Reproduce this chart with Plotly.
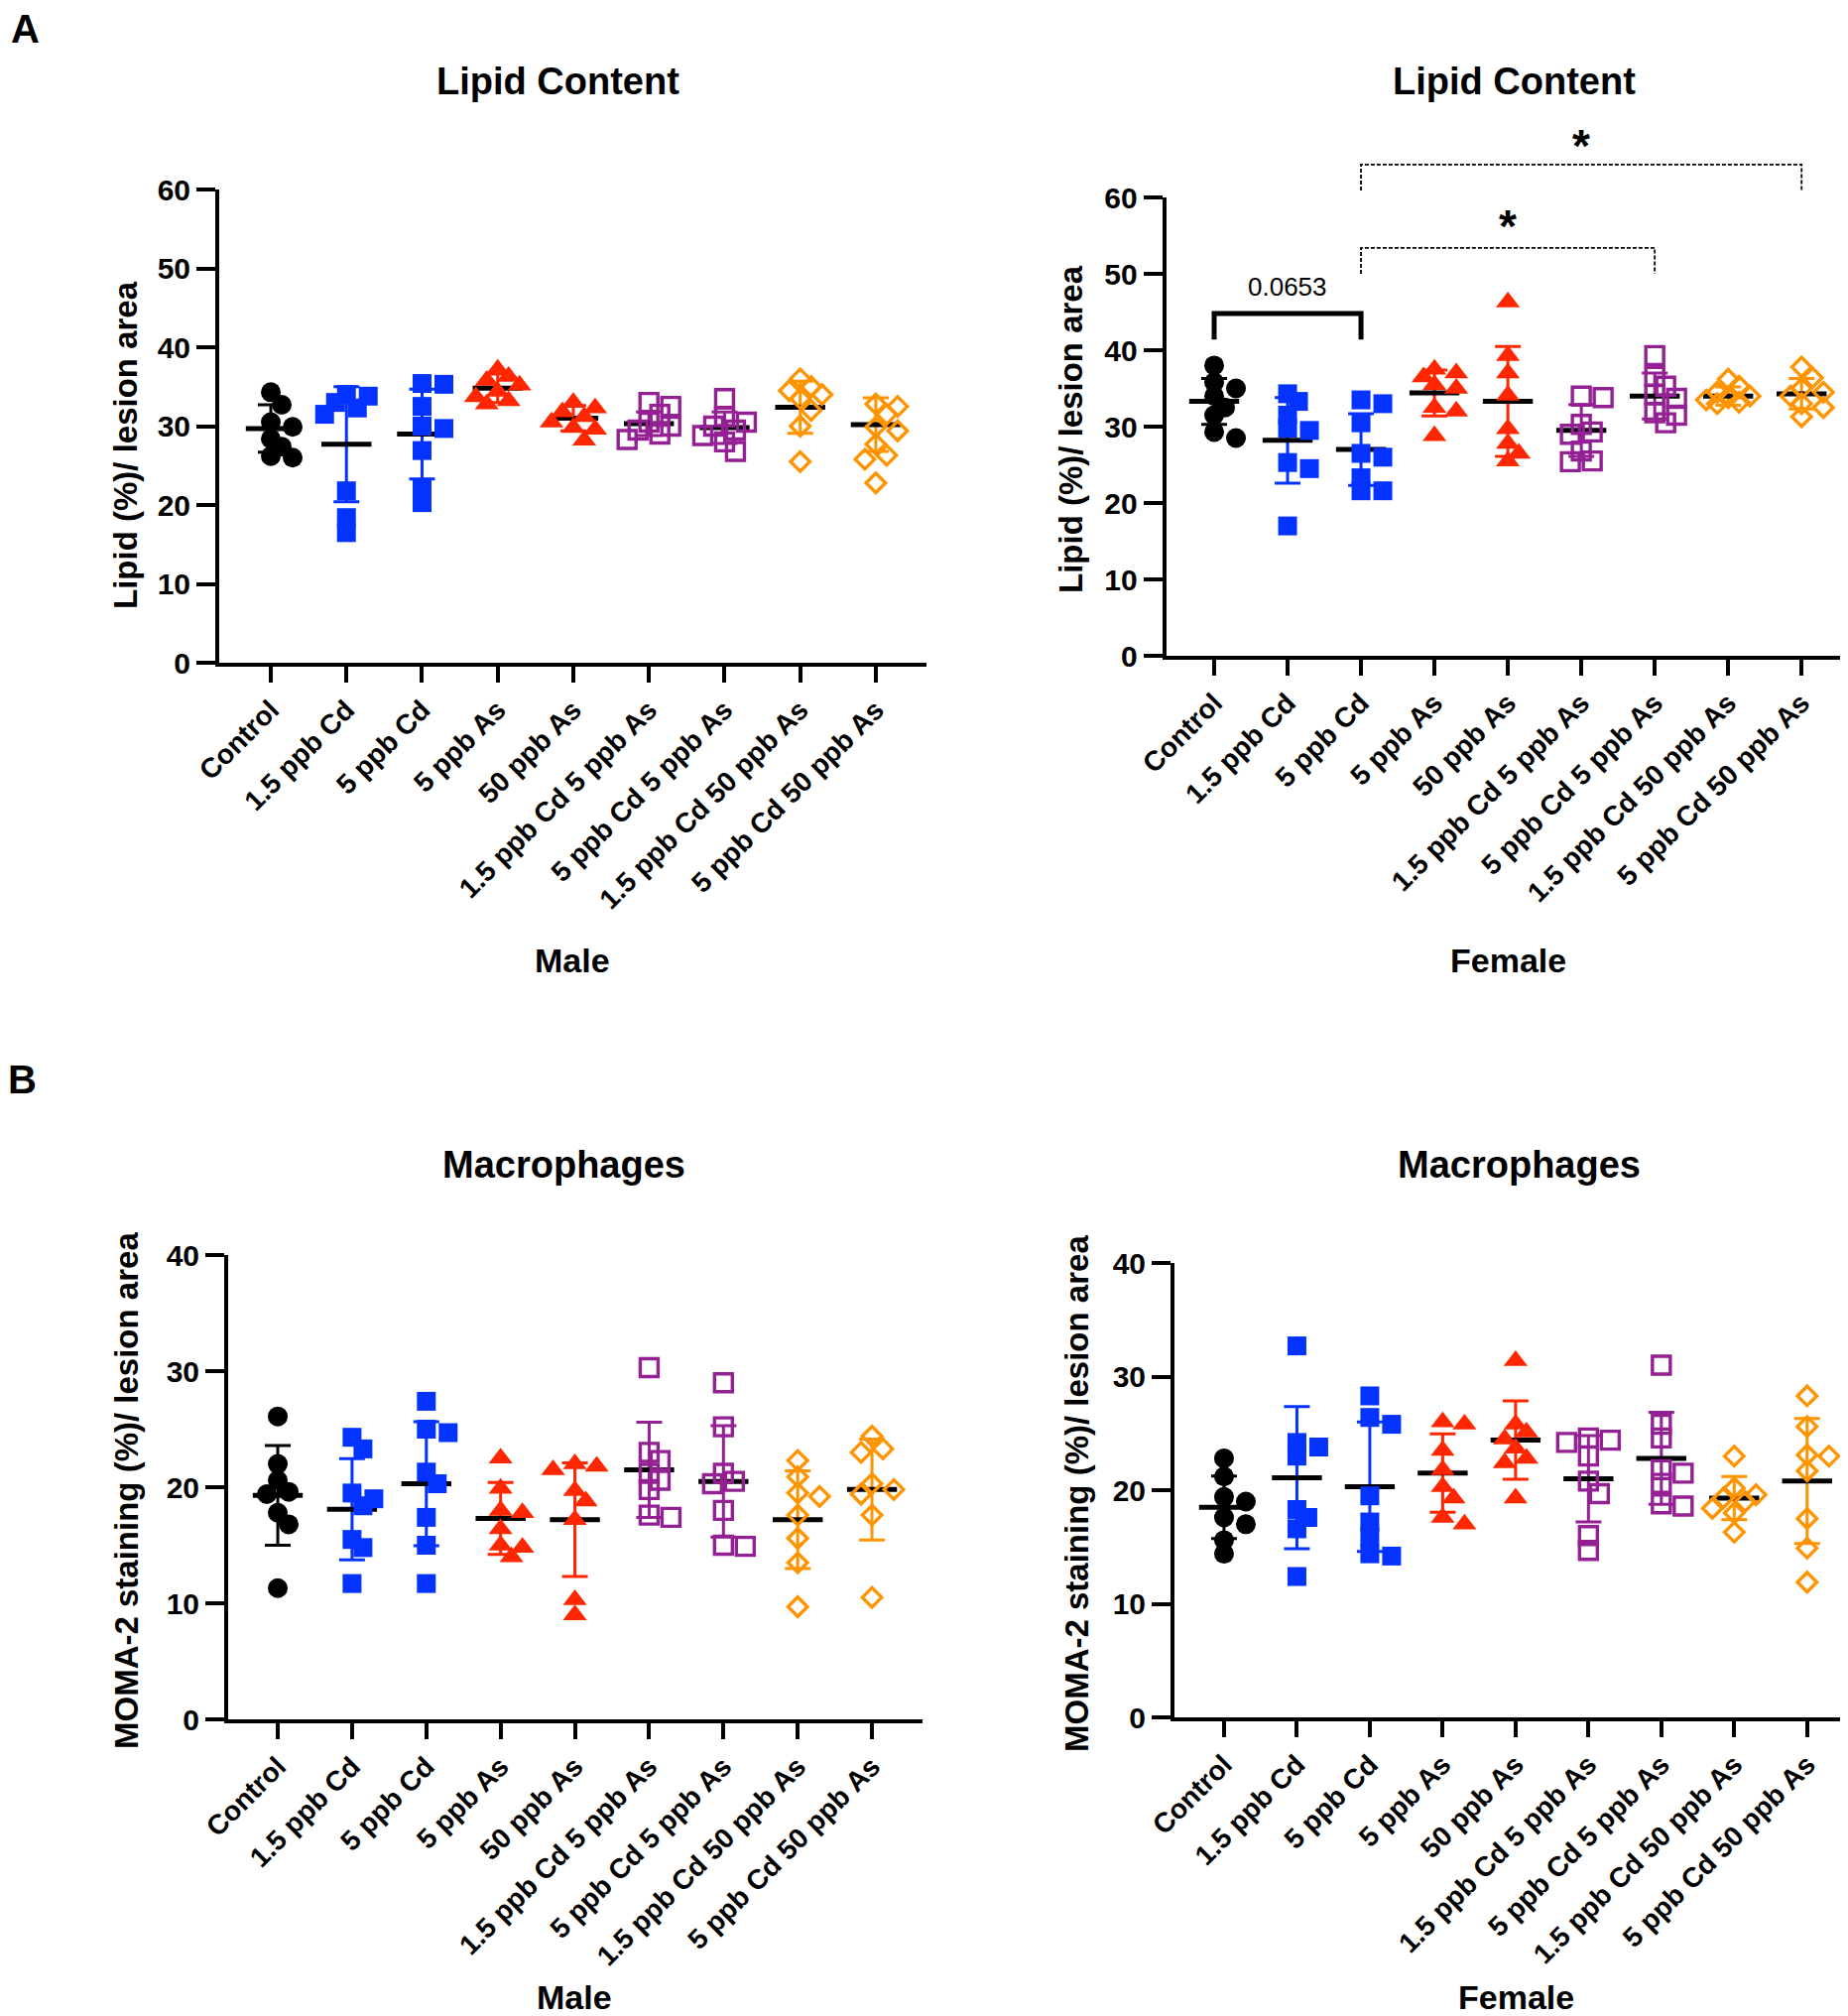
import plotly.graph_objects as go

W, H = 1863, 2032

categories = ["Control", "1.5 ppb Cd", "5 ppb Cd", "5 ppb As", "50 ppb As",
              "1.5 ppb Cd 5 ppb As", "5 ppb Cd 5 ppb As",
              "1.5 ppb Cd 50 ppb As", "5 ppb Cd 50 ppb As"]

# ---- Panel A, Male: lipid (%) / lesion area ----
lipid_male = [
    [34.3, 32.7, 30.5, 29.9, 28.4, 27.4, 26.2, 26.0],
    [34.0, 33.8, 33.0, 32.3, 31.5, 21.8, 18.4, 16.5],
    [35.4, 35.3, 32.5, 30.0, 29.7, 26.9, 22.0, 20.3],
    [37.2, 36.3, 35.8, 35.2, 34.4, 33.7, 33.2, 32.8],
    [33.0, 32.3, 31.8, 31.2, 30.5, 29.8, 29.6, 28.2],
    [33.0, 32.5, 31.5, 30.5, 30.0, 29.5, 29.0, 28.3],
    [33.5, 31.2, 30.5, 30.0, 29.5, 28.8, 28.0, 26.8],
    [36.0, 35.0, 34.5, 34.0, 33.5, 32.0, 30.0, 25.5],
    [32.8, 32.5, 31.5, 29.9, 29.4, 27.7, 26.3, 25.8, 22.8],
]
lipid_male_mean = [29.7, 27.7, 29.0, 34.8, 31.0, 30.3, 29.8, 32.4, 30.2]
lipid_male_sd = [3.0, 7.3, 5.7, 1.8, 1.6, 1.5, 2.0, 3.3, 3.4]

# ---- Panel A, Female ----
lipid_female = [
    [38.0, 35.8, 35.0, 34.0, 32.5, 31.5, 29.3, 28.5],
    [34.3, 33.3, 31.5, 29.8, 29.5, 25.3, 24.5, 17.0],
    [33.5, 33.0, 30.5, 26.5, 26.0, 23.3, 21.6, 21.6],
    [37.5, 37.0, 36.5, 35.5, 35.0, 32.5, 32.0, 28.8],
    [46.3, 39.3, 37.0, 34.1, 29.7, 27.8, 26.5, 25.5],
    [34.0, 33.8, 30.3, 29.3, 29.0, 26.8, 25.5, 25.4],
    [39.3, 36.6, 35.3, 34.2, 33.7, 31.8, 31.5, 30.5],
    [36.2, 35.3, 34.5, 34.0, 33.8, 33.5, 33.2, 33.0],
    [37.8, 36.4, 35.0, 34.5, 34.0, 33.0, 32.5, 31.3],
]
lipid_female_mean = [33.3, 28.2, 27.0, 34.4, 33.3, 29.5, 34.0, 34.0, 34.3]
lipid_female_sd = [3.0, 5.6, 4.7, 3.0, 7.2, 3.4, 3.0, 1.2, 2.0]

# ---- Panel B, Male: MOMA-2 staining (%) / lesion area ----
macro_male = [
    [26.1, 22.0, 20.6, 19.6, 19.4, 17.8, 16.8, 11.3],
    [24.3, 23.3, 19.5, 19.0, 18.4, 15.5, 14.8, 11.7],
    [27.4, 25.0, 24.7, 21.3, 20.3, 17.4, 15.0, 11.7],
    [22.5, 19.9, 18.0, 17.8, 16.4, 15.0, 14.8, 14.0],
    [22.0, 21.8, 21.5, 19.7, 18.8, 17.2, 10.3, 9.0],
    [30.3, 23.0, 22.3, 21.2, 20.6, 19.8, 17.6, 17.4],
    [29.0, 25.2, 21.2, 20.5, 20.3, 18.0, 15.0, 14.9],
    [22.3, 20.9, 19.5, 19.2, 17.6, 15.6, 13.5, 9.7],
    [24.4, 23.3, 23.0, 20.3, 19.8, 19.4, 17.6, 10.5],
]
macro_male_mean = [19.3, 18.1, 20.3, 17.3, 17.2, 21.5, 20.5, 17.2, 19.8]
macro_male_sd = [4.3, 4.35, 5.35, 3.1, 4.9, 4.1, 4.8, 4.2, 4.35]

# ---- Panel B, Female ----
macro_female = [
    [22.8, 21.2, 19.4, 19.0, 17.6, 17.0, 15.6, 14.4],
    [32.7, 24.2, 23.8, 23.0, 18.3, 17.6, 16.6, 12.4],
    [28.3, 26.4, 25.8, 19.5, 17.2, 15.9, 14.4, 14.2],
    [26.0, 25.8, 23.5, 21.8, 20.3, 19.3, 17.6, 17.0],
    [31.4, 25.8, 25.1, 24.5, 23.7, 22.8, 22.4, 19.3],
    [24.6, 24.4, 24.2, 23.0, 20.8, 19.7, 16.0, 14.7],
    [31.0, 25.8, 24.6, 21.8, 21.5, 20.6, 18.8, 18.6],
    [23.0, 20.2, 19.6, 19.3, 19.0, 18.4, 18.0, 16.3],
    [28.3, 25.6, 23.1, 23.0, 21.7, 17.5, 14.9, 11.9],
]
macro_female_mean = [18.5, 21.1, 20.3, 21.5, 24.4, 21.0, 22.8, 19.3, 20.8]
macro_female_sd = [2.75, 6.25, 5.7, 3.45, 3.45, 3.8, 4.05, 1.9, 5.5]

# ---- significance annotations (female lipid panel) ----
sig_pairs = [(0, 2), (2, 6), (2, 8)]
sig_bar_y = [44.8, 53.4, 64.3]
sig_leg_y = [41.4, 50.0, 60.9]
sig_labels = ["0.0653", "*", "*"]
sig_label_y = [48.3, 57.4, 67.9]

# ---- styles ----
colors = ["#000000", "#0433FF", "#0433FF", "#FF2600", "#FF2600",
          "#942193", "#942193", "#FF9300", "#FF9300"]
symbols = ["circle", "square", "square", "triangle-up", "triangle-up",
           "square-open", "square-open", "diamond-open", "diamond-open"]
sizes = [20, 19, 19, 21, 21, 18, 18, 15, 15]
FONT = "Liberation Sans, Arial, Helvetica, sans-serif"

panels = [
    dict(vals=lipid_male, mean=lipid_male_mean, sd=lipid_male_sd,
         px=(213, 926), py=(183, 660), xr=(-0.682, 8.67), ymax=60, dtick=10,
         title="Lipid Content", ytitle="Lipid (%)/ lesion area", xtitle="Male",
         tpos=(554, 74), ytpos=(119, 441), xtpos=(569, 960)),
    dict(vals=lipid_female, mean=lipid_female_mean, sd=lipid_female_sd,
         px=(1167.6, 1863), py=(191, 653), xr=(-0.654, 8.74), ymax=60, dtick=10,
         title="Lipid Content", ytitle="Lipid (%)/ lesion area", xtitle="Female",
         tpos=(1518, 74), ytpos=(1072, 425), xtpos=(1512, 960)),
    dict(vals=macro_male, mean=macro_male_mean, sd=macro_male_sd,
         px=(222, 922), py=(1257, 1725), xr=(-0.668, 8.68), ymax=40, dtick=10,
         title="Macrophages", ytitle="MOMA-2 staining (%)/ lesion area", xtitle="Male",
         tpos=(560, 1166), ytpos=(119, 1495), xtpos=(571, 2005)),
    dict(vals=macro_female, mean=macro_female_mean, sd=macro_female_sd,
         px=(1176, 1863), py=(1265, 1723), xr=(-0.68, 8.67), ymax=40, dtick=10,
         title="Macrophages", ytitle="MOMA-2 staining (%)/ lesion area", xtitle="Female",
         tpos=(1523, 1166), ytpos=(1077, 1498), xtpos=(1520, 2005)),
]


def swarm(vals, ppu, ppc, step, mind):
    """Deterministic beeswarm offsets (in category units)."""
    cands = [0, step, -step, 2 * step, -2 * step]
    placed = []
    offs = [0.0] * len(vals)
    order = sorted(range(len(vals)), key=lambda i: -vals[i])
    for i in order:
        y = vals[i] * ppu
        chosen = None
        for c in cands:
            if all((c - px) ** 2 + (y - py) ** 2 >= mind ** 2 for px, py in placed):
                chosen = c
                break
        if chosen is None:
            chosen = max(cands, key=lambda c: min(((c - px) ** 2 + (y - py) ** 2) for px, py in placed))
        placed.append((chosen, y))
        offs[i] = chosen / ppc
    return offs


fig = go.Figure()
layout = dict(width=W, height=H, margin=dict(l=0, r=0, t=0, b=0),
              template="none", paper_bgcolor="white", plot_bgcolor="white",
              showlegend=False, font=dict(family=FONT, color="black"))
annotations = []
shapes = []

for k, p in enumerate(panels):
    sfx = "" if k == 0 else str(k + 1)
    xa, ya = "x" + sfx, "y" + sfx
    dom_x = [p["px"][0] / W, min(p["px"][1] / W, 1.0)]
    dom_y = [1 - p["py"][1] / H, 1 - p["py"][0] / H]
    ppc = (p["px"][1] - p["px"][0]) / (p["xr"][1] - p["xr"][0])
    ppu = (p["py"][1] - p["py"][0]) / p["ymax"]

    for i, cat in enumerate(categories):
        col = colors[i]
        # mean line + SD error bar
        fig.add_trace(go.Scatter(
            x=[i], y=[p["mean"][i]], mode="markers", xaxis=xa, yaxis=ya,
            marker=dict(symbol="line-ew", size=36, color="black",
                        line=dict(width=5, color="black")),
            error_y=dict(type="data", array=[p["sd"][i]], color=col,
                         thickness=3, width=13),
            hoverinfo="skip", showlegend=False))
        offs = swarm(p["vals"][i], ppu, ppc, 11, 13)
        is_open = symbols[i].endswith("open")
        fig.add_trace(go.Scatter(
            x=[i + o for o in offs], y=p["vals"][i], mode="markers",
            xaxis=xa, yaxis=ya, name=cat,
            marker=dict(symbol=symbols[i], size=sizes[i], color=col,
                        line=dict(width=3.4 if is_open else 0, color=col)),
            showlegend=False))

    layout["xaxis" + sfx] = dict(
        domain=dom_x, anchor=ya, range=list(p["xr"]),
        tickmode="array", tickvals=list(range(len(categories))), ticktext=categories,
        tickangle=-45, ticks="outside", ticklen=16, tickwidth=4, tickcolor="black",
        showline=True, linewidth=4, linecolor="black", showgrid=False, zeroline=False,
        tickfont=dict(family=FONT, size=28, weight="bold", color="black"),
        automargin=False, fixedrange=True)
    layout["yaxis" + sfx] = dict(
        domain=dom_y, anchor=xa, range=[0, p["ymax"]], tick0=0, dtick=p["dtick"],
        ticks="outside", ticklen=19, tickwidth=4, tickcolor="black",
        showline=True, linewidth=4, linecolor="black", showgrid=False, zeroline=False,
        tickfont=dict(family=FONT, size=30, weight="bold", color="black"),
        automargin=False, fixedrange=True)

    annotations.append(dict(text=p["title"], xref="paper", yref="paper",
                            x=p["tpos"][0] / W, y=1 - p["tpos"][1] / H,
                            xanchor="center", yanchor="middle", showarrow=False,
                            font=dict(family=FONT, size=38, weight="bold", color="black")))
    annotations.append(dict(text=p["ytitle"], xref="paper", yref="paper",
                            x=p["ytpos"][0] / W, y=1 - p["ytpos"][1] / H, textangle=-90,
                            xanchor="center", yanchor="middle", showarrow=False,
                            font=dict(family=FONT, size=33, weight="bold", color="black")))
    annotations.append(dict(text=p["xtitle"], xref="paper", yref="paper",
                            x=p["xtpos"][0] / W, y=1 - p["xtpos"][1] / H,
                            xanchor="center", yanchor="middle", showarrow=False,
                            font=dict(family=FONT, size=34, weight="bold", color="black")))

    if k == 1:
        for (a, b), yb, yl, lab, yt in zip(sig_pairs, sig_bar_y, sig_leg_y, sig_labels, sig_label_y):
            solid = lab != "*"
            ym = p["ymax"]
            shapes.append(dict(
                type="path", xref=xa, yref=ya + " domain",
                path=f"M {a},{yl / ym} L {a},{yb / ym} L {b},{yb / ym} L {b},{yl / ym}",
                line=dict(color="black", width=5 if solid else 1.8,
                          dash="solid" if solid else "4px,2px")))
            annotations.append(dict(
                text=lab, xref=xa, yref=ya + " domain", x=(a + b) / 2, y=yt / ym,
                xanchor="center", yanchor="middle", showarrow=False,
                yshift=0 if solid else -9,
                font=dict(family=FONT, size=26 if solid else 46,
                          weight="normal" if solid else "bold", color="black")))

for letter, (lx, ly) in zip(["A", "B"], [(17, 21), (15, 1080)]):
    annotations.append(dict(text=letter, xref="paper", yref="paper",
                            x=lx / W, y=1 - ly / H, xanchor="center", yanchor="middle",
                            showarrow=False,
                            font=dict(family=FONT, size=40, weight="bold", color="black")))

layout["annotations"] = annotations
layout["shapes"] = shapes
fig.update_layout(**layout)
fig.write_html("out.html")
